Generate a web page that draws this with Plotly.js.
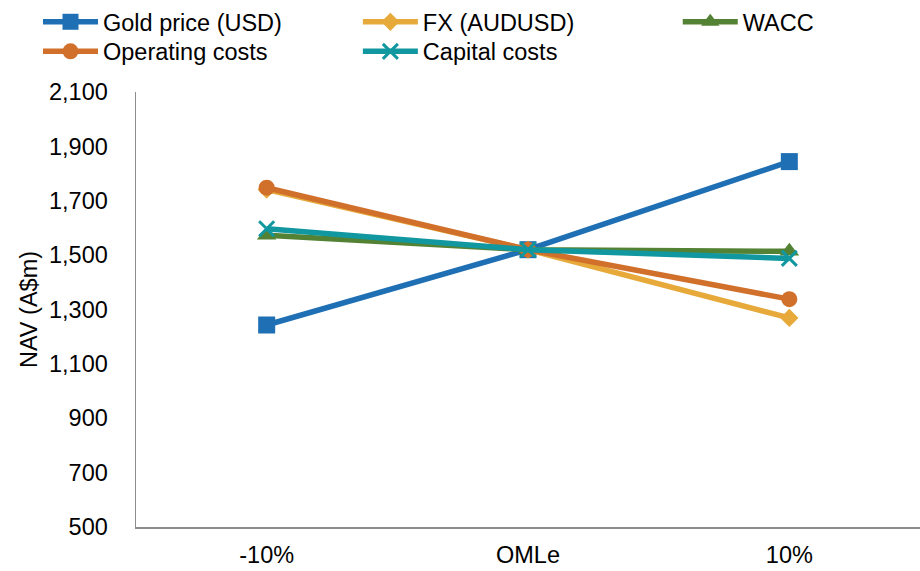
<!DOCTYPE html>
<html>
<head>
<meta charset="utf-8">
<script src="https://cdn.plot.ly/plotly-3.0.1.min.js"></script>
<style>html,body{margin:0;padding:0;background:#fff;}#chart{width:920px;height:571px;}</style>
</head>
<body>
<div id="chart"></div>
<script>
const categories = ["-10%", "OMLe", "10%"];
const goldPrice = [1243, 1520, 1844];
const fxAudUsd = [1741, 1520, 1269];
const wacc = [1573, 1520, 1514];
const operatingCosts = [1748, 1520, 1338];
const capitalCosts = [1597, 1520, 1488];
const yTicks = [500, 700, 900, 1100, 1300, 1500, 1700, 1900, 2100];

const FONT = "Liberation Sans, Arial, sans-serif";
const FS = 23.5;
function tr(name, y, color, symbol, legend, size) {
  return {
    type: "scatter", mode: "lines+markers", name: name,
    x: categories, y: y, legend: legend,
    line: {color: color, width: 5.5},
    marker: {color: color, symbol: symbol, size: size,
             line: {color: color, width: symbol === "x-thin" ? 3 : 0}},
    hoverinfo: "skip"
  };
}
const data = [
  tr("Gold price (USD)", goldPrice, "#1f6fb4", "square", "legend", 17),
  tr("FX (AUDUSD)", fxAudUsd, "#e6a93a", "diamond", "legend2", 14),
  tr("WACC", wacc, "#548235", "triangle-up", "legend3", 17),
  tr("Operating costs", operatingCosts, "#d1702b", "circle", "legend4", 16),
  tr("Capital costs", capitalCosts, "#10979f", "x-thin", "legend5", 15)
];
const legendBase = {orientation: "v", yanchor: "middle", xanchor: "left",
  font: {family: FONT, size: FS, color: "#000"}, bgcolor: "rgba(0,0,0,0)",
  itemwidth: 55};
const row1 = 1.161, row2 = 1.093;
const col1 = -0.125, col2 = 0.283, col3 = 0.691;
const layout = {
  width: 920, height: 571,
  margin: {l: 136, r: 0, t: 90, b: 44},
  paper_bgcolor: "#fff", plot_bgcolor: "#fff",
  font: {family: FONT, size: FS, color: "#000"},
  showlegend: true,
  legend: Object.assign({}, legendBase, {x: col1, y: row1}),
  legend2: Object.assign({}, legendBase, {x: col2, y: row1}),
  legend3: Object.assign({}, legendBase, {x: col3, y: row1}),
  legend4: Object.assign({}, legendBase, {x: col1, y: row2}),
  legend5: Object.assign({}, legendBase, {x: col2, y: row2}),
  xaxis: {
    type: "category", range: [-0.5, 2.5], showgrid: false, zeroline: false,
    showline: true, linecolor: "#8c8c8c", linewidth: 1.5, ticks: "",
    tickfont: {family: FONT, size: FS, color: "#000"}, ticklabelstandoff: 6
  },
  yaxis: {
    range: [500, 2100], tickvals: yTicks, ticktext: yTicks.map(v => v.toLocaleString("en-US")),
    showgrid: false, zeroline: false, showline: true, linecolor: "#8c8c8c", linewidth: 1.5,
    ticks: "", tickfont: {family: FONT, size: FS, color: "#000"}, ticklabelstandoff: 22,
    title: {text: "NAV (A$m)", font: {family: FONT, size: FS, color: "#000"}, standoff: 5}
  }
};
Plotly.newPlot("chart", data, layout, {displayModeBar: false, staticPlot: true});
</script>
</body>
</html>
